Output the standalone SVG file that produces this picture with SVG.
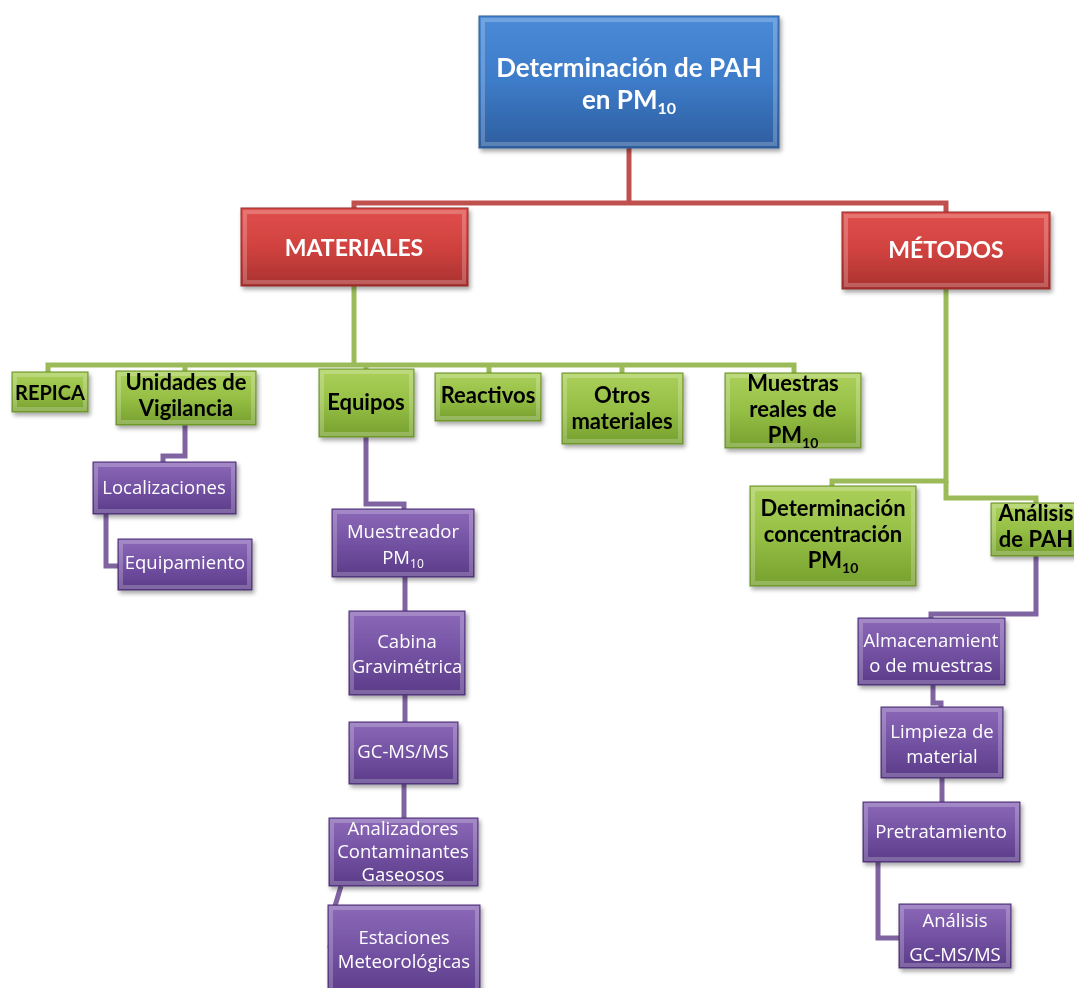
<svg xmlns="http://www.w3.org/2000/svg" width="1074" height="988" viewBox="0 0 1074 988">
<defs>
<linearGradient id="gBlue" x1="0" y1="0" x2="0" y2="1"><stop offset="0" stop-color="#4a8ad6"/><stop offset="0.5" stop-color="#3d7bc8"/><stop offset="1" stop-color="#2e5e9f"/></linearGradient>
<linearGradient id="gRed" x1="0" y1="0" x2="0" y2="1"><stop offset="0" stop-color="#e04f4c"/><stop offset="0.5" stop-color="#d0423f"/><stop offset="1" stop-color="#a93230"/></linearGradient>
<linearGradient id="gGreen" x1="0" y1="0" x2="0" y2="1"><stop offset="0" stop-color="#abd05a"/><stop offset="0.5" stop-color="#96bf45"/><stop offset="1" stop-color="#76a02e"/></linearGradient>
<linearGradient id="gPurple" x1="0" y1="0" x2="0" y2="1"><stop offset="0" stop-color="#8c69b8"/><stop offset="0.5" stop-color="#7452a3"/><stop offset="1" stop-color="#5a3b88"/></linearGradient>
<filter id="sh" x="-10%" y="-10%" width="125%" height="130%"><feDropShadow dx="2" dy="3" stdDeviation="2" flood-color="#000" flood-opacity="0.35"/></filter>
</defs>
<style>
.box{filter:url(#sh);}
.bevel{fill:none;stroke:#ffffff;stroke-opacity:0.22;stroke-width:4;}
.blue{fill:url(#gBlue);stroke:#2c5a94;stroke-width:1;}
.red{fill:url(#gRed);stroke:#8e2a28;stroke-width:1;}
.green{fill:url(#gGreen);stroke:#6a8f2a;stroke-width:1;}
.purple{fill:url(#gPurple);stroke:#4b3172;stroke-width:1;}
.tw{font-family:Lato,"Open Sans","Liberation Sans",sans-serif;font-weight:bold;fill:#fff;text-anchor:middle;}
.tg{font-family:Lato,"Open Sans","Liberation Sans",sans-serif;font-weight:bold;fill:#000;text-anchor:middle;font-size:22px;}
.tp{font-family:"Open Sans",Lato,"Liberation Sans",sans-serif;fill:#fff;text-anchor:middle;font-size:18.5px;}
.cr{fill:none;stroke:#c0504d;stroke-width:5;}
.cg{fill:none;stroke:#9bbb59;stroke-width:5;}
.cp{fill:none;stroke:#8064a2;stroke-width:5;}
</style>
<g id="connectors">
<path class="cr" d="M629 148 V204"/>
<path class="cr" d="M354 209 V203 H946 V213"/>
<path class="cg" d="M354 286 V365"/>
<path class="cg" d="M48 374 V365 H794 V374"/>
<path class="cg" d="M185 365 V372 M366 365 V370 M489 365 V374 M622 365 V374"/>
<path class="cg" d="M946 289 V481 H832 V488"/>
<path class="cg" d="M946 481 V498 H1036 V504"/>
<path class="cp" d="M185 425 V456 H163 V462"/>
<path class="cp" d="M106 514 V566 H118"/>
<path class="cp" d="M366 437 V504 H404 V509"/>
<path class="cp" d="M405 577 V611"/>
<path class="cp" d="M405 695 V722"/>
<path class="cp" d="M404 784 V818"/>
<path class="cp" d="M341 886 L335 906 L330 948"/>
<path class="cp" d="M1036 556 V614 H931 V618"/>
<path class="cp" d="M933 685 V703 H941 V707"/>
<path class="cp" d="M942 778 V802"/>
<path class="cp" d="M878 862 V938 H899"/>
</g>
<g id="n-root" class="box"><rect class="blue" x="479" y="16" width="300" height="132"/><rect class="bevel" x="483" y="20" width="292" height="124"/>
<text class="tw" font-size="26" x="629" y="77">Determinación de PAH</text>
<text class="tw" font-size="26" x="629" y="109">en PM<tspan font-size="16" dy="5">10</tspan></text></g>
<g id="n-materiales" class="box"><rect class="red" x="241" y="208" width="227" height="78"/><rect class="bevel" x="245" y="212" width="219" height="70"/>
<text class="tw" font-size="23" x="354" y="256">MATERIALES</text></g>
<g id="n-metodos" class="box"><rect class="red" x="842" y="212" width="208" height="77"/><rect class="bevel" x="846" y="216" width="200" height="69"/>
<text class="tw" font-size="23" x="946" y="258">MÉTODOS</text></g>
<g id="n-repica" class="box"><rect class="green" x="12" y="372" width="76" height="40"/><rect class="bevel" x="15" y="375" width="70" height="34"/>
<text class="tg" x="50" y="400" style="font-size:20px">REPICA</text></g>
<g id="n-unidades" class="box"><rect class="green" x="116" y="371" width="140" height="54"/><rect class="bevel" x="119" y="374" width="134" height="48"/>
<text class="tg" x="186" y="390">Unidades de</text><text class="tg" x="186" y="416">Vigilancia</text></g>
<g id="n-equipos" class="box"><rect class="green" x="319" y="369" width="95" height="68"/><rect class="bevel" x="322" y="372" width="89" height="62"/>
<text class="tg" x="366" y="410">Equipos</text></g>
<g id="n-reactivos" class="box"><rect class="green" x="435" y="373" width="106" height="48"/><rect class="bevel" x="438" y="376" width="100" height="42"/>
<text class="tg" x="488" y="403">Reactivos</text></g>
<g id="n-otros" class="box"><rect class="green" x="562" y="373" width="121" height="71"/><rect class="bevel" x="565" y="376" width="115" height="65"/>
<text class="tg" x="622" y="403">Otros</text><text class="tg" x="622" y="429">materiales</text></g>
<g id="n-muestras" class="box"><rect class="green" x="725" y="373" width="136" height="75"/><rect class="bevel" x="728" y="376" width="130" height="69"/>
<text class="tg" x="793" y="391">Muestras</text><text class="tg" x="793" y="417">reales de</text><text class="tg" x="793" y="443">PM<tspan font-size="14" dy="5">10</tspan></text></g>
<g id="n-determinacion" class="box"><rect class="green" x="750" y="486" width="166" height="100"/><rect class="bevel" x="753" y="489" width="160" height="94"/>
<text class="tg" x="833" y="516">Determinación</text><text class="tg" x="833" y="542">concentración</text><text class="tg" x="833" y="568">PM<tspan font-size="14" dy="5">10</tspan></text></g>
<g id="n-analisis-pah" class="box"><rect class="green" x="991" y="503" width="95" height="53"/><rect class="bevel" x="994" y="506" width="89" height="47"/>
<text class="tg" x="1036" y="521">Análisis</text><text class="tg" x="1036" y="547">de PAH</text></g>
<g id="n-localizaciones" class="box"><rect class="purple" x="93" y="462" width="143" height="52"/><rect class="bevel" x="96" y="465" width="137" height="46"/>
<text class="tp" x="164" y="494">Localizaciones</text></g>
<g id="n-equipamiento" class="box"><rect class="purple" x="118" y="539" width="134" height="51"/><rect class="bevel" x="121" y="542" width="128" height="45"/>
<text class="tp" x="185" y="569">Equipamiento</text></g>
<g id="n-muestreador" class="box"><rect class="purple" x="332" y="509" width="142" height="68"/><rect class="bevel" x="335" y="512" width="136" height="62"/>
<text class="tp" x="403" y="538">Muestreador</text><text class="tp" x="403" y="564">PM<tspan font-size="12" dy="4">10</tspan></text></g>
<g id="n-cabina" class="box"><rect class="purple" x="349" y="611" width="116" height="84"/><rect class="bevel" x="352" y="614" width="110" height="78"/>
<text class="tp" x="407" y="648">Cabina</text><text class="tp" x="407" y="673">Gravimétrica</text></g>
<g id="n-gcmsms" class="box"><rect class="purple" x="349" y="722" width="109" height="62"/><rect class="bevel" x="352" y="725" width="103" height="56"/>
<text class="tp" x="403" y="758">GC-MS/MS</text></g>
<g id="n-analizadores" class="box"><rect class="purple" x="329" y="818" width="149" height="68"/><rect class="bevel" x="332" y="821" width="143" height="62"/>
<text class="tp" x="403" y="835">Analizadores</text><text class="tp" x="403" y="858">Contaminantes</text><text class="tp" x="403" y="881">Gaseosos</text></g>
<g id="n-estaciones" class="box"><rect class="purple" x="328" y="905" width="152" height="92"/><rect class="bevel" x="331" y="908" width="146" height="86"/>
<text class="tp" x="404" y="944">Estaciones</text><text class="tp" x="404" y="968">Meteorológicas</text></g>
<g id="n-almacenamiento" class="box"><rect class="purple" x="858" y="618" width="147" height="67"/><rect class="bevel" x="861" y="621" width="141" height="61"/>
<text class="tp" x="931" y="647">Almacenamient</text><text class="tp" x="931" y="672">o de muestras</text></g>
<g id="n-limpieza" class="box"><rect class="purple" x="881" y="707" width="122" height="71"/><rect class="bevel" x="884" y="710" width="116" height="65"/>
<text class="tp" x="942" y="738">Limpieza de</text><text class="tp" x="942" y="763">material</text></g>
<g id="n-pretratamiento" class="box"><rect class="purple" x="863" y="802" width="157" height="60"/><rect class="bevel" x="866" y="805" width="151" height="54"/>
<text class="tp" x="941" y="838">Pretratamiento</text></g>
<g id="n-analisis-gc" class="box"><rect class="purple" x="899" y="904" width="112" height="64"/><rect class="bevel" x="902" y="907" width="106" height="58"/>
<text class="tp" x="955" y="927">Análisis</text><text class="tp" x="955" y="961">GC-MS/MS</text></g>
</svg>
